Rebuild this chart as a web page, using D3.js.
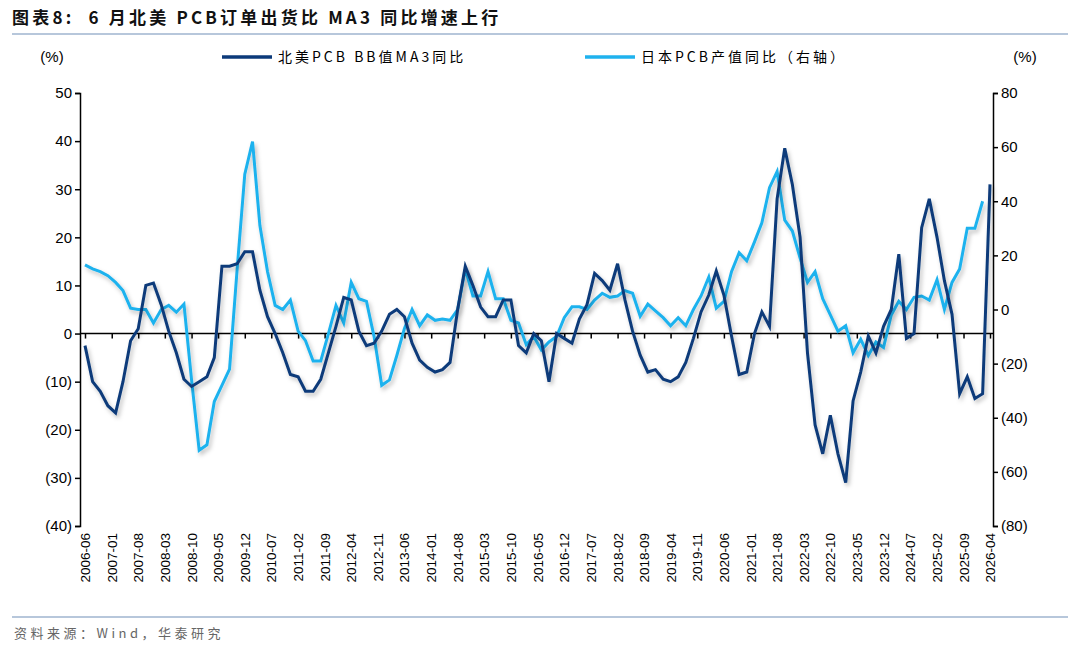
<!DOCTYPE html>
<html>
<head>
<meta charset="utf-8" />
<title>图表8</title>
<style type="text/css">
body{ margin:0; background:#fff; font-family:"Noto Sans CJK SC","Noto Sans",sans-serif; }
</style>
<script src="https://d3js.org/d3.v7.min.js"></script>
</head>
<body>
<div id="chart"></div>
<script>
// 北美PCB BB值MA3同比 (左轴), 2006-06起每两个月一个读数
var bbValues = [-2.5,-10,-12,-15,-16.5,-10,-1.5,1,10,10.5,6,0.5,-4,-9.5,-11,-10,-9,-5,14,14,
14.5,17,17,9,3.5,0,-4,-8.5,-9,-12,-12,-9.5,-4,1.5,7.5,7,0.5,-2.5,-2,0.5,
4,5,3.5,-2,-5.5,-7,-8,-7.5,-6,5,14,10,5.5,3.5,3.5,7,7,-2.5,-4,0,
-1.5,-10,0,-1,-2,3,6,12.5,11,9,14.5,7,0.5,-4.5,-8,-7.5,-9.5,-10,-9,-6,
-1,4.5,8,13,8,-0.5,-8.5,-8,0,4.5,1.5,28,38.5,31,20,-4,-19,-25,-17,-25,
-31,-14,-8,-0.5,-4,1.5,5,16.5,-1,0,22,28,20,11,4,-12.5,-9,-13.5,-12.5,31];
// 日本PCB产值同比 (右轴)
var jpValues = [16.5,15,14,12.5,10,7,0.5,0,0,-5,0,1.5,-1,2,-26,-52,-50,-34,-28,-22,
15,50,62,31,14,1.5,0,3.5,-8,-11.5,-19,-19,-9,1.5,-5,10,4,3,-10,-28,
-26,-17,-7,0,-6,-2,-4,-3.5,-4,0,15,5,5,14,4,4,-4,-5,-13,-10,
-15,-12,-10,-3,1,1,0,3.5,6,4.5,5,7,6,-2.5,2,-0.5,-3,-6,-3,-6,
0,5,12,0.5,3,14,21,18,25,32,45,51,33,29,19,10,14,4,-2,-8,
-6,-16,-11,-17,-12,-14,-2,3,0,4.5,5,3.5,11,0,10,15,30,30,40];
var startDate = new Date(2006, 5, 1);
var stepMonths = 2;
var leftTicks = [50,40,30,20,10,0,-10,-20,-30,-40];
var rightTicks = [80,60,40,20,0,-20,-40,-60,-80];
var tickLabelMonths = d3.range(0, 239, 7);
var seriesNames = ["北美PCB BB值MA3同比", "日本PCB产值同比（右轴）"];
var colors = ["#0c3a7a", "#1fb2ee"];

var W = 1080, H = 650;
var svg = d3.select("#chart").append("svg").attr("width", W).attr("height", H);

var defs = svg.append("defs");
var f = defs.append("filter").attr("id","sh").attr("x","-5%").attr("y","-5%").attr("width","110%").attr("height","120%");
f.append("feDropShadow").attr("dx",2).attr("dy",3).attr("stdDeviation",2).attr("flood-color","#000").attr("flood-opacity",0.25);

// 标题
svg.append("text").attr("x",12).attr("y",24).attr("font-size",17).attr("font-weight","bold").attr("fill","#111")
	.attr("letter-spacing",3.2).attr("xml:space","preserve")
	.text("图表8:  6 月北美 PCB订单出货比 MA3 同比增速上行");
svg.append("line").attr("x1",12).attr("x2",1068).attr("y1",34).attr("y2",34).attr("stroke","#9fb4cf").attr("stroke-width",1.5);
svg.append("line").attr("x1",12).attr("x2",1068).attr("y1",617).attr("y2",617).attr("stroke","#9fb4cf").attr("stroke-width",1.5);
svg.append("text").attr("x",14).attr("y",638).attr("font-size",13).attr("fill","#666").attr("letter-spacing",3.5)
	.text("资料来源：Wind，华泰研究");

function monthDate(m){ return d3.timeMonth.offset(startDate, m); }
var x = d3.scaleTime().domain([monthDate(0), monthDate(238)]).range([85, 990]);
var yL = d3.scaleLinear().domain([-40,50]).range([526,93]);
var yR = d3.scaleLinear().domain([-80,80]).range([526,93]);

// 左右轴
var gL = svg.append("g").attr("transform","translate(80,0)")
	.call(d3.axisLeft(yL).tickValues(leftTicks).tickSize(5).tickFormat(function(d){ return d<0 ? "("+(-d)+")" : d; }));
var gR = svg.append("g").attr("transform","translate(993,0)")
	.call(d3.axisRight(yR).tickValues(rightTicks).tickSize(5).tickFormat(function(d){ return d<0 ? "("+(-d)+")" : d; }));
[gL,gR].forEach(function(g){
	g.select(".domain").attr("stroke","#000").attr("stroke-width",1.5);
	g.selectAll(".tick line").attr("stroke","#000").attr("stroke-width",1.5);
	g.selectAll("text").attr("font-size",15).attr("font-family","Arial, Liberation Sans").attr("fill","#000");
});
svg.append("text").attr("x",52).attr("y",62).attr("font-size",15).attr("font-family","Arial, Liberation Sans").attr("text-anchor","middle").text("(%)");
svg.append("text").attr("x",1025).attr("y",62).attr("font-size",15).attr("font-family","Arial, Liberation Sans").attr("text-anchor","middle").text("(%)");

// 零线与x轴
var gX = svg.append("g").attr("transform","translate(0,"+yL(0)+")")
	.call(d3.axisBottom(x).tickValues(tickLabelMonths.map(monthDate)).tickSize(5).tickFormat(""));
gX.select(".domain").remove();
gX.selectAll(".tick line").attr("stroke","#000").attr("stroke-width",1.5);
svg.append("line").attr("x1",80).attr("x2",993).attr("y1",yL(0)).attr("y2",yL(0)).attr("stroke","#000").attr("stroke-width",1.5);
svg.selectAll(".xlab").data(tickLabelMonths).enter().append("text")
	.attr("class","xlab")
	.attr("transform",function(d){ return "translate("+(x(monthDate(d))+5)+",533) rotate(-90)"; })
	.attr("text-anchor","end").attr("font-size",13.5).attr("font-family","Arial, Liberation Sans")
	.text(function(d){ return d3.timeFormat("%Y-%m")(monthDate(d)); });

// 折线
var lineL = d3.line().x(function(d,i){ return x(monthDate(i*stepMonths)); }).y(function(d){ return yL(d); });
var lineR = d3.line().x(function(d,i){ return x(monthDate(i*stepMonths)); }).y(function(d){ return yR(d); });
svg.append("path").datum(jpValues).attr("d",lineR).attr("fill","none").attr("stroke",colors[1]).attr("stroke-width",3).attr("filter","url(#sh)");
svg.append("path").datum(bbValues).attr("d",lineL).attr("fill","none").attr("stroke",colors[0]).attr("stroke-width",3).attr("filter","url(#sh)");

// 图例
var legX = [222, 585];
seriesNames.forEach(function(n,i){
	svg.append("line").attr("x1",legX[i]).attr("x2",legX[i]+50).attr("y1",57).attr("y2",57).attr("stroke",colors[i]).attr("stroke-width",3.5);
	svg.append("text").attr("x",legX[i]+56).attr("y",62).attr("font-size",14).attr("letter-spacing",3).text(n);
});
</script>
</body>
</html>
